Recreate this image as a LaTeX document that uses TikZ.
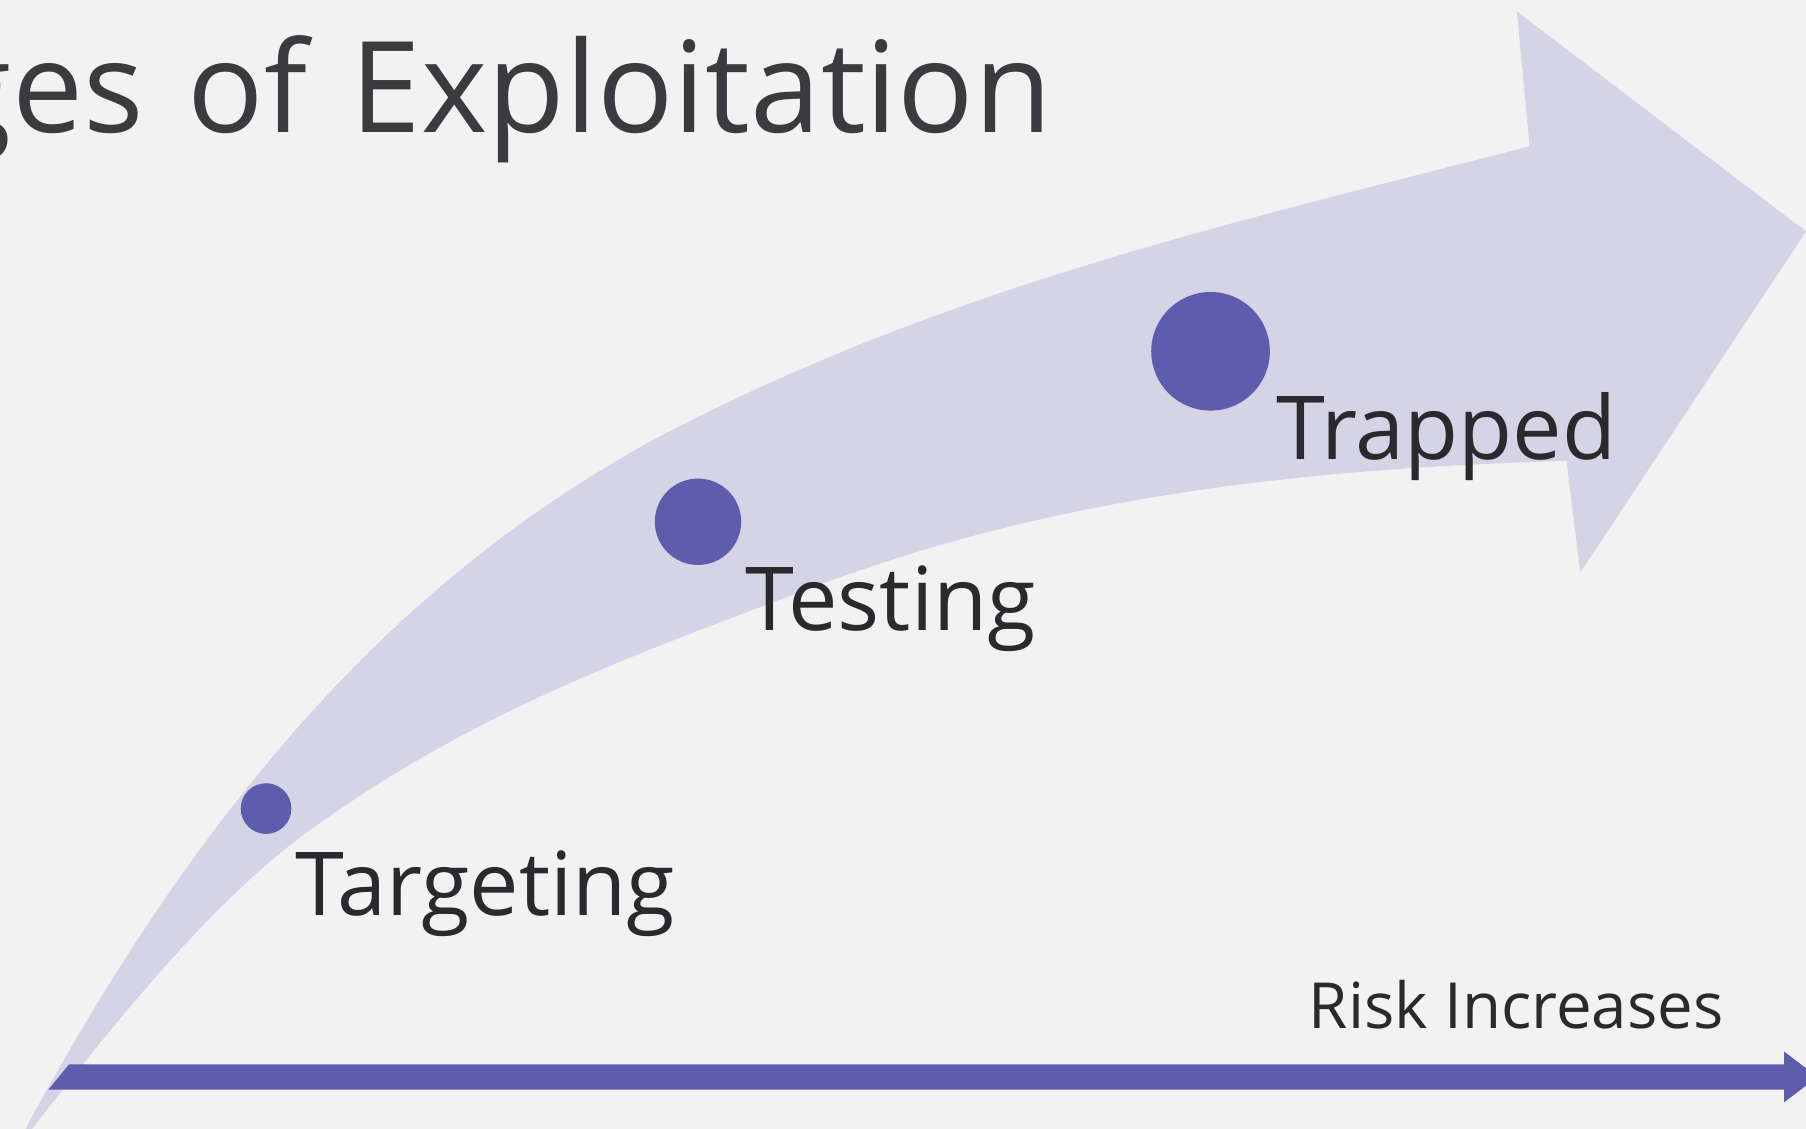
\documentclass[tikz,border=0pt]{standalone}
\usepackage{fontspec}
\setmainfont{Open Sans}
\definecolor{bgc}{HTML}{F2F2F2}
\definecolor{bandc}{HTML}{D5D3E6}
\definecolor{purp}{HTML}{5E5DAD}
\definecolor{txt}{HTML}{2A2A2E}
\tikzset{
  dot/.style={circle, fill=purp, inner sep=0pt},
  stagelabel/.style={anchor=base west, inner sep=0pt, text=txt, font=\fontsize{38.3}{42}\selectfont},
}
\begin{document}
\begin{tikzpicture}[x=0.5pt,y=-0.5pt]
\path[use as bounding box, fill=bgc] (0,0) rectangle (1568,980);
\clip (0,0) rectangle (1568,980);
% title
\node[anchor=base east, inner sep=0pt, text=txt!92!white, font=\fontsize{55}{60}\selectfont] (title) at (914,115) {\spaceskip=19pt\relax ges of Exploitation};
% curved band arrow
\coordinate (tip) at (10,1003);
\coordinate (mUp) at (567,382);
\coordinate (jTop) at (1328,127);
\coordinate (hTop) at (1317,10);
\coordinate (hTip) at (1568,201);
\coordinate (hBot) at (1372,497);
\coordinate (jBot) at (1360,400);
\coordinate (mLo) at (700,512);
\coordinate (qLo) at (266,723);
\fill[bandc] (tip) .. controls (195,651) and (382,484) .. (mUp)
  .. controls (821,248) and (1074,193) .. (jTop)
  -- (hTop) -- (hTip) -- (hBot) -- (jBot)
  .. controls (1140,407) and (920,428) .. (mLo)
  .. controls (555,567) and (411,617) .. (qLo)
  .. controls (181,785) and (95,893) .. (tip) -- cycle;
% risk bar
\coordinate (bL) at (60,924);
\coordinate (bR) at (1578,935);
\fill[purp] (bL) -- (1549,924) -- (1549,913) -- (bR) -- (1549,957) -- (1549,946) -- (42,946) -- cycle;
% dots
\node[dot, minimum size=22pt] (d1) at (231,702) {};
\node[dot, minimum size=37.5pt] (d2) at (606,453) {};
\node[dot, minimum size=51.5pt] (d3) at (1051,305) {};
% labels
\node[stagelabel] (l1) at (256,795) {Targeting};
\node[stagelabel] (l2) at (647,547) {Testing};
\node[stagelabel] (l3) at (1108,399) {Trapped};
\node[anchor=base west, inner sep=0pt, text=txt, font=\fontsize{27.6}{30}\selectfont] (risk) at (1136,893) {Risk Increases};
\end{tikzpicture}
\end{document}
